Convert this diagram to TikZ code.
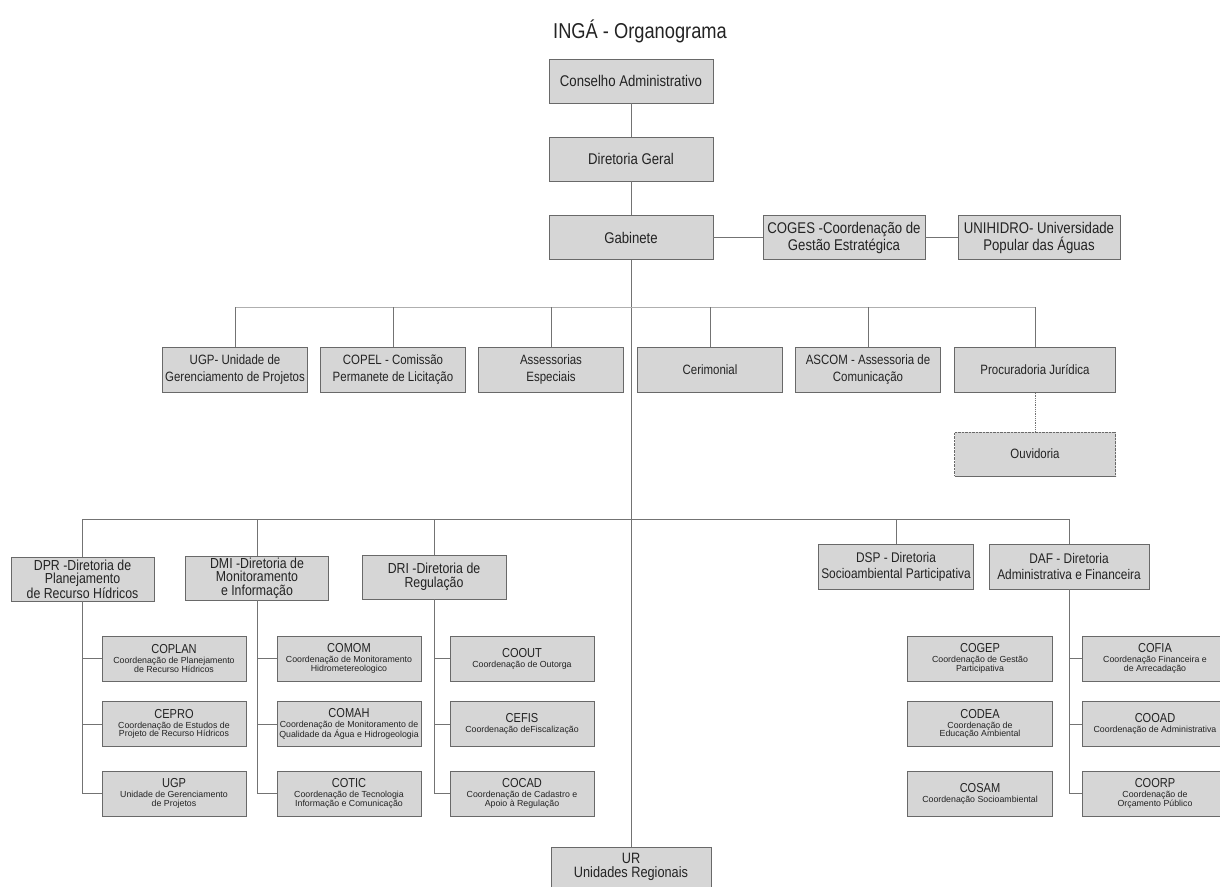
\documentclass[tikz,border=0pt]{standalone}
\usepackage{fontspec}
\setmainfont{Liberation Sans}[FakeStretch=0.85]
\newfontfamily\widefont{Liberation Sans}
\usetikzlibrary{shadows}
\definecolor{box_fill}{RGB}{214,214,214}
\definecolor{box_line}{RGB}{105,105,105}
\definecolor{line_gray}{RGB}{115,115,115}
\definecolor{bar_gray}{RGB}{175,175,175}
\definecolor{text_gray}{RGB}{35,35,35}
\newcommand{\unithead}[1]{{\rmfamily\fontsize{13}{13}\selectfont #1}}
\tikzset{
	unitbox/.style={rectangle,draw=box_line,fill=box_fill,text=text_gray,align=center,inner sep=1pt,
		drop shadow={shadow xshift=0.8pt,shadow yshift=-0.8pt,fill=box_line,opacity=1}},
	topbox/.style={unitbox,minimum width=164pt,minimum height=44pt,font=\fontsize{15.5}{17}\selectfont},
	staffbox/.style={unitbox,minimum width=145pt,minimum height=45pt,font=\fontsize{13.5}{17}\selectfont},
	dirbox/.style={unitbox,minimum width=143pt,minimum height=44pt,font=\fontsize{14.5}{13.5}\selectfont},
	coordbox/.style={unitbox,minimum width=144pt,minimum height=45pt,font=\widefont\fontsize{8.8}{8.5}\selectfont},
	conn/.style={draw=line_gray,line width=0.8pt},
	barline/.style={draw=bar_gray,line width=0.8pt}
}
\begin{document}
\begin{tikzpicture}[x=1pt,y=-1pt]
	\useasboundingbox[fill=white] (0,0) rectangle (1220,886);
	\node[font=\fontsize{21.5}{21.5}\selectfont,text=text_gray] (title) at (640,31) {INGÁ - Organograma};
	
	\node[topbox] (cons) at (631,81) {Conselho Administrativo};
	\node[topbox] (dirg) at (631,159) {Diretoria Geral};
	\node[topbox] (gab) at (631,237.5) {Gabinete};
	\node[topbox,minimum width=162pt] (coges) at (844,237.5) {COGES -Coordenação de\\Gestão Estratégica};
	\node[topbox,minimum width=162pt] (unih) at (1039,237.5) {UNIHIDRO- Universidade\\Popular das Águas};
	
	\node[staffbox] (ugp) at (235,370) {UGP- Unidade de\\Gerenciamento de Projetos};
	\node[staffbox] (copel) at (393,370) {COPEL - Comissão\\Permanete de Licitação};
	\node[staffbox] (asses) at (551,370) {Assessorias\\Especiais};
	\node[staffbox] (ceri) at (710,370) {Cerimonial};
	\node[staffbox] (ascom) at (868,370) {ASCOM - Assessoria de\\Comunicação};
	\node[staffbox,minimum width=161pt] (proc) at (1035,370) {Procuradoria Jurídica};
	\node[staffbox,minimum width=161pt,minimum height=44pt,densely dotted,drop shadow={opacity=0}] (ouv) at (1035,454) {Ouvidoria};
	
	\node[dirbox] (dpr) at (82.5,579) {DPR -Diretoria de\\Planejamento\\de Recurso Hídricos};
	\node[dirbox] (dmi) at (257,578) {DMI -Diretoria de\\Monitoramento\\e Informação};
	\node[dirbox,minimum width=144pt] (dri) at (434,577) {DRI -Diretoria de\\Regulação};
	\node[dirbox,minimum width=155pt,minimum height=45pt,font=\fontsize{14}{16}\selectfont] (dsp) at (896,566.5) {DSP - Diretoria\\Socioambiental Participativa};
	\node[dirbox,minimum width=160pt,minimum height=45pt,font=\fontsize{14}{16}\selectfont] (daf) at (1069,566.5) {DAF - Diretoria\\Administrativa e Financeira};
	
	\node[coordbox] (coplan) at (174,658.5) {\unithead{COPLAN}\\[1.5pt]Coordenação de Planejamento\\de Recurso Hídricos};
	\node[coordbox] (cepro) at (174,724) {\unithead{CEPRO}\\[1.5pt]Coordenação de Estudos de\\Projeto de Recurso Hídricos};
	\node[coordbox] (ugpproj) at (174,793.5) {\unithead{UGP}\\[1.5pt]Unidade de Gerenciamento\\de Projetos};
	\node[coordbox] (comom) at (349,658.5) {\unithead{COMOM}\\[1.5pt]Coordenação de Monitoramento\\Hidrometereologico};
	\node[coordbox] (comah) at (349,724) {\unithead{COMAH}\\[1.5pt]Coordenação de Monitoramento de\\Qualidade da Água e Hidrogeologia};
	\node[coordbox] (cotic) at (349,793.5) {\unithead{COTIC}\\[1.5pt]Coordenação de Tecnologia\\Informação e Comunicação};
	\node[coordbox] (coout) at (522,658.5) {\unithead{COOUT}\\[1.5pt]Coordenação de Outorga};
	\node[coordbox] (cefis) at (522,724) {\unithead{CEFIS}\\[1.5pt]Coordenação deFiscalização};
	\node[coordbox] (cocad) at (522,793.5) {\unithead{COCAD}\\[1.5pt]Coordenação de Cadastro e\\Apoio à Regulação};
	\node[coordbox,minimum width=145pt] (cogep) at (980,658.5) {\unithead{COGEP}\\[1.5pt]Coordenação de Gestão\\Participativa};
	\node[coordbox,minimum width=145pt] (codea) at (980,724) {\unithead{CODEA}\\[1.5pt]Coordenação de\\Educação Ambiental};
	\node[coordbox,minimum width=145pt] (cosam) at (980,793.5) {\unithead{COSAM}\\[1.5pt]Coordenação Socioambiental};
	\node[coordbox,minimum width=145pt] (cofia) at (1155,658.5) {\unithead{COFIA}\\[1.5pt]Coordenação Financeira e\\de Arrecadação};
	\node[coordbox,minimum width=145pt] (cooad) at (1155,724) {\unithead{COOAD}\\[1.5pt]Coordenação de Administrativa};
	\node[coordbox,minimum width=145pt] (coorp) at (1155,793.5) {\unithead{COORP}\\[1.5pt]Coordenação de\\Orçamento Público};
	
	\node[topbox,minimum width=160pt,minimum height=40pt,font=\fontsize{15}{14}\selectfont] (ur) at (631,867) {UR\\Unidades Regionais};
	
	\coordinate (bar1) at (631,307);
	\coordinate (bar2) at (631,519);
	
	\draw[conn] (cons) -- (dirg) -- (gab) -- (ur);
	\draw[conn] (gab) -- (coges) -- (unih);
	\draw[barline] (ugp.north |- bar1) -- (proc.north |- bar1);
	\foreach \n in {ugp,copel,asses,ceri,ascom,proc}
		\draw[conn] (\n.north) -- (\n.north |- bar1);
	\draw[conn,densely dotted] (proc) -- (ouv);
	\draw[conn] (dpr.north |- bar2) -- (daf.north |- bar2);
	\foreach \n in {dpr,dmi,dri,dsp,daf}
		\draw[conn] (\n.north) -- (\n.north |- bar2);
	\foreach \d/\s in {dpr/coplan,dpr/cepro,dpr/ugpproj,dmi/comom,dmi/comah,dmi/cotic,dri/coout,dri/cefis,dri/cocad,daf/cofia,daf/cooad,daf/coorp}
		\draw[conn] (\d.south) |- (\s.west);
\end{tikzpicture}
\end{document}
